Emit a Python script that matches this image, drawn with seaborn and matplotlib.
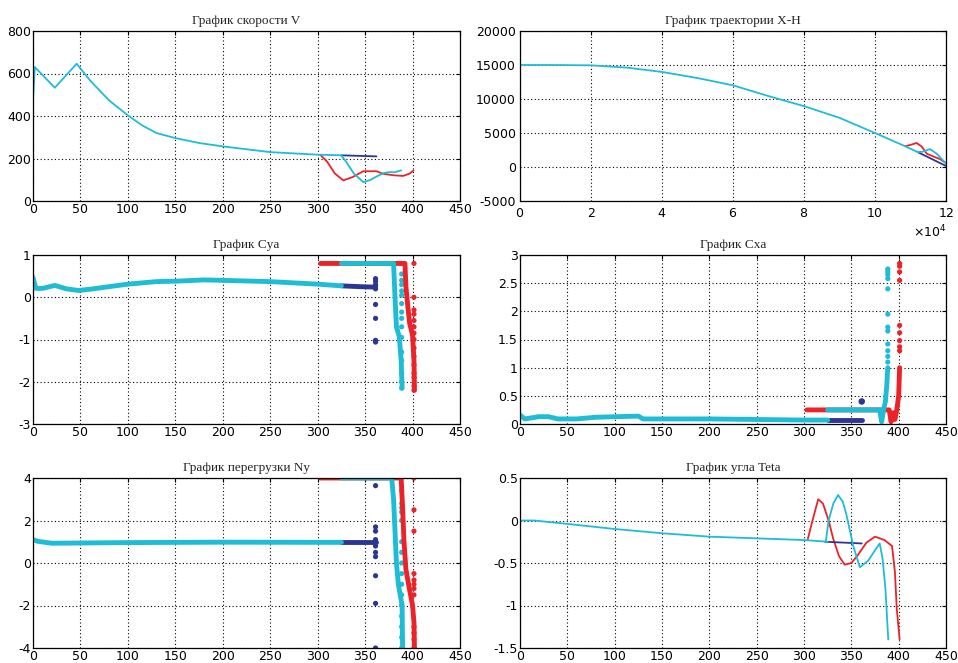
import matplotlib
matplotlib.use("Agg")
import matplotlib.pyplot as plt
from matplotlib.ticker import FuncFormatter, ScalarFormatter, MultipleLocator
import seaborn as sns

# ---- colours of the three flight variants ----
CYAN = "#1fbcd6"
RED = "#ec2229"
NAVY = "#2b3692"

# ---- speed V (m/s) ----
v_t_main = [0, 2, 23, 46, 60, 80, 100, 115, 130, 150, 175, 200, 250, 300, 325]
v_main = [481, 630, 533, 646, 568, 474, 403, 356, 320, 296, 273, 257, 230, 218, 215]
v_t_red = [303, 310, 318, 327, 337, 348, 362, 369, 380, 390, 397, 401]
v_red = [216, 185, 130, 97, 113, 140, 140, 128, 121, 118, 129, 144]
v_t_cyan = [325, 330, 338, 348, 355, 362, 370, 376, 381, 388]
v_cyan = [214, 185, 130, 89, 98, 115, 132, 136, 135, 144]
v_t_navy = [325, 340, 362]
v_navy = [215, 213, 210]

# ---- trajectory X-H (m) ----
xh_x_main = [0, 10000, 20000, 30000, 40000, 50000, 60000, 70000, 80000, 90000,
             100000, 108500, 112000]
xh_h_main = [15000, 15000, 14950, 14620, 13980, 13080, 12010, 10430, 8950, 7230,
             5000, 3050, 2200]
xh_x_red = [108500, 110000, 111700, 113100, 114600, 116400, 118300, 120000]
xh_h_red = [3050, 3250, 3530, 3040, 1950, 1560, 1160, 570]
xh_x_cyan = [112000, 113500, 115500, 117400, 120000]
xh_h_cyan = [2200, 2250, 2640, 1950, 500]
xh_x_navy = [112000, 120000]
xh_h_navy = [2200, 150]

# ---- lift coefficient Cya ----
cya_t_main = [0, 3, 10, 23, 35, 48, 60, 100, 130, 150, 180, 200, 250, 300, 325]
cya_main = [0.47, 0.21, 0.21, 0.28, 0.2, 0.16, 0.19, 0.31, 0.37, 0.38, 0.41, 0.4,
            0.37, 0.31, 0.27]
cya_t_red = [303, 392, 393, 395, 397, 400, 401.5, 402]
cya_red = [0.8, 0.8, 0.25, -0.22, -0.62, -0.9, -1.5, -2.2]
cya_t_cyan = [325, 380, 381.5, 383, 386, 388, 389]
cya_cyan = [0.8, 0.8, 0.0, -0.7, -0.93, -1.5, -2.15]
cya_t_navy = [325, 345, 361]
cya_navy = [0.27, 0.25, 0.24]
cya_dot_navy = [0.44, 0.38, 0.3, 0.25, 0.2, -0.17, -0.5, -1.02, -1.06]
cya_dot_cyan = [0.8, 0.55, 0.4, 0.3, 0.15, 0.05, -0.15, -0.35, -0.5, -0.7, -0.95,
                -1.3, -1.5, -1.8, -2.0, -2.15]
cya_dot_red = [0.8, 0.0, -0.3, -0.4, -0.55, -0.7, -0.85, -1.0, -1.2, -1.4, -1.6,
               -1.8, -1.9, -2.1, -2.2]

# ---- drag coefficient Cxa ----
cxa_t_main = [0, 5, 20, 30, 40, 60, 80, 125, 130, 200, 300, 325]
cxa_main = [0.16, 0.09, 0.13, 0.13, 0.09, 0.09, 0.12, 0.14, 0.09, 0.09, 0.07, 0.07]
cxa_t_red = [303, 390, 392, 394, 396, 398, 400, 401]
cxa_red = [0.25, 0.25, 0.04, 0.2, 0.08, 0.25, 0.5, 1.0]
cxa_t_cyan = [325, 380, 382, 384, 386, 387.5, 388.5]
cxa_cyan = [0.25, 0.25, 0.04, 0.25, 0.4, 0.7, 1.0]
cxa_t_navy = [325, 361]
cxa_navy = [0.07, 0.07]
cxa_dot_navy = [0.4]
cxa_dot_cyan = [1.1, 1.2, 1.3, 1.42, 1.65, 1.72, 1.95, 2.4, 2.58, 2.65, 2.7, 2.75]
cxa_dot_red = [1.3, 1.37, 1.48, 1.62, 1.75, 2.55, 2.7, 2.8, 2.85]

# ---- load factor Ny ----
ny_t_main = [0, 5, 20, 100, 200, 325]
ny_main = [1.1, 1.02, 0.93, 0.96, 0.98, 0.97]
ny_t_red = [303, 388, 389.5, 391, 393, 396, 400, 401.5, 402]
ny_red = [4.0, 4.0, 2.6, 1.0, -0.3, -1.05, -2.0, -2.8, -4.0]
ny_t_cyan = [325, 378, 380, 381.5, 383, 385, 387, 389, 389.5]
ny_cyan = [4.0, 4.0, 3.0, 1.5, 0.0, -1.0, -1.5, -2.0, -4.0]
ny_t_navy = [325, 361]
ny_navy = [0.97, 0.97]
ny_dot_navy = [3.64, 1.7, 1.5, 1.1, 1.0, 0.8, 0.5, 0.3, -0.6, -1.9, -4.0]
ny_dot_cyan = [3.4, 2.8, 2.6, 2.4, 2.0, 1.0, 0.5, 0.0, -0.5, -1.0, -1.5, -2.0,
               -2.5, -3.0, -3.5, -4.0]
ny_dot_red = [4.0, 2.5, 1.5, -0.5, -0.8, -1.0, -1.2, -1.5, -3.0, -3.3, -3.6, -4.0]

# ---- path angle Teta (rad) ----
th_t_main = [0, 15, 50, 100, 150, 200, 250, 300, 325]
th_main = [0.0, 0.0, -0.04, -0.1, -0.15, -0.19, -0.21, -0.23, -0.25]
th_t_red = [304, 309, 315, 320, 326, 331, 337, 343, 350, 356, 366, 375, 385, 393,
            396, 398, 401]
th_red = [-0.22, 0.0, 0.25, 0.2, 0.0, -0.22, -0.42, -0.52, -0.5, -0.42, -0.26,
          -0.19, -0.23, -0.3, -0.6, -1.04, -1.4]
th_t_cyan = [323, 326, 331, 336, 341, 345, 352, 359, 368, 375, 380, 383, 386, 389]
th_cyan = [-0.25, 0.0, 0.2, 0.3, 0.22, 0.06, -0.3, -0.55, -0.47, -0.35, -0.27,
           -0.45, -0.8, -1.4]
th_t_navy = [322, 361]
th_navy = [-0.25, -0.27]

sns.set_theme(style="white")
plt.rcParams["font.family"] = ["DejaVu Sans"]
plt.rcParams["axes.unicode_minus"] = False

fig = plt.figure(figsize=(9.58, 6.63), dpi=100)
left_x, right_x = 33 / 958, 520 / 958
col_w_l, col_w_r = 427 / 958, 426 / 958
rows = [(31, 201), (255, 424), (478, 648)]


def make_axes(col, row):
    top, bot = rows[row]
    x0 = left_x if col == 0 else right_x
    w = col_w_l if col == 0 else col_w_r
    return fig.add_axes([x0, 1 - bot / 663, w, (bot - top) / 663])


def style(ax, title, xlim, ylim, xstep, ystep):
    ax.set_xlim(*xlim)
    ax.set_ylim(*ylim)
    ax.xaxis.set_major_locator(MultipleLocator(xstep))
    ax.yaxis.set_major_locator(MultipleLocator(ystep))
    ax.yaxis.set_major_formatter(FuncFormatter(lambda v, p: f"{v:g}"))
    ax.grid(True, color="black", linestyle=(0, (1, 2.2)), linewidth=0.8)
    ax.set_axisbelow(True)
    for s in ax.spines.values():
        s.set_visible(True)
        s.set_color("black")
        s.set_linewidth(0.9)
    ax.tick_params(direction="in", length=3, width=0.8, top=True, right=True,
                   labelsize=9, colors="black", pad=1.5)
    ax.set_title(title, family="Liberation Serif", fontsize=9.5, pad=5)
    ax.set_xlabel("")
    ax.set_ylabel("")


def line(ax, x, y, color, lw):
    sns.lineplot(x=x, y=y, ax=ax, color=color, linewidth=lw, sort=False,
                 estimator=None, legend=False)


def dots(ax, t, y, color, size=14):
    sns.scatterplot(x=[t] * len(y), y=y, ax=ax, color=color, s=size,
                    edgecolor="none", legend=False)


# speed
ax = make_axes(0, 0)
line(ax, v_t_red, v_red, RED, 1.3)
line(ax, v_t_navy, v_navy, NAVY, 1.3)
line(ax, v_t_main, v_main, CYAN, 1.3)
line(ax, v_t_cyan, v_cyan, CYAN, 1.3)
style(ax, "График скорости V", (0, 450), (0, 800), 50, 200)

# trajectory
ax = make_axes(1, 0)
line(ax, xh_x_red, xh_h_red, RED, 1.3)
line(ax, xh_x_navy, xh_h_navy, NAVY, 1.3)
line(ax, xh_x_main, xh_h_main, CYAN, 1.3)
line(ax, xh_x_cyan, xh_h_cyan, CYAN, 1.3)
style(ax, "График траектории X-H", (0, 120000), (-5000, 20000), 20000, 5000)
fmt = ScalarFormatter(useMathText=True)
fmt.set_powerlimits((4, 4))
ax.xaxis.set_major_formatter(fmt)
ax.xaxis.get_offset_text().set_fontsize(9)
ax.tick_params(axis="x", pad=4)
ax.tick_params(axis="y", pad=3)

# Cya
ax = make_axes(0, 1)
line(ax, cya_t_red, cya_red, RED, 3.5)
dots(ax, 401.5, cya_dot_red, RED)
line(ax, cya_t_navy, cya_navy, NAVY, 3.5)
dots(ax, 361, cya_dot_navy, NAVY)
line(ax, cya_t_main, cya_main, CYAN, 3.5)
line(ax, cya_t_cyan, cya_cyan, CYAN, 3.5)
dots(ax, 388.5, cya_dot_cyan, CYAN)
style(ax, "График Cya", (0, 450), (-3, 1), 50, 1)

# Cxa
ax = make_axes(1, 1)
line(ax, cxa_t_red, cxa_red, RED, 3.5)
dots(ax, 401, cxa_dot_red, RED)
line(ax, cxa_t_navy, cxa_navy, NAVY, 3.5)
dots(ax, 361, cxa_dot_navy, NAVY, 22)
line(ax, cxa_t_main, cxa_main, CYAN, 3.5)
line(ax, cxa_t_cyan, cxa_cyan, CYAN, 3.5)
dots(ax, 388.5, cxa_dot_cyan, CYAN)
style(ax, "График Cxa", (0, 450), (0, 3), 50, 0.5)

# Ny
ax = make_axes(0, 2)
line(ax, ny_t_red, ny_red, RED, 3.5)
dots(ax, 401.5, ny_dot_red, RED)
line(ax, ny_t_navy, ny_navy, NAVY, 3.5)
dots(ax, 361, ny_dot_navy, NAVY)
line(ax, ny_t_main, ny_main, CYAN, 3.5)
line(ax, ny_t_cyan, ny_cyan, CYAN, 3.5)
dots(ax, 388.5, ny_dot_cyan, CYAN)
style(ax, "График перегрузки Ny", (0, 450), (-4, 4), 50, 2)

# Teta
ax = make_axes(1, 2)
line(ax, th_t_red, th_red, RED, 1.3)
line(ax, th_t_navy, th_navy, NAVY, 1.3)
line(ax, th_t_main, th_main, CYAN, 1.3)
line(ax, th_t_cyan, th_cyan, CYAN, 1.3)
style(ax, "График угла Teta", (0, 450), (-1.5, 0.5), 50, 0.5)

fig.savefig("out.png", dpi=100, facecolor="white")
